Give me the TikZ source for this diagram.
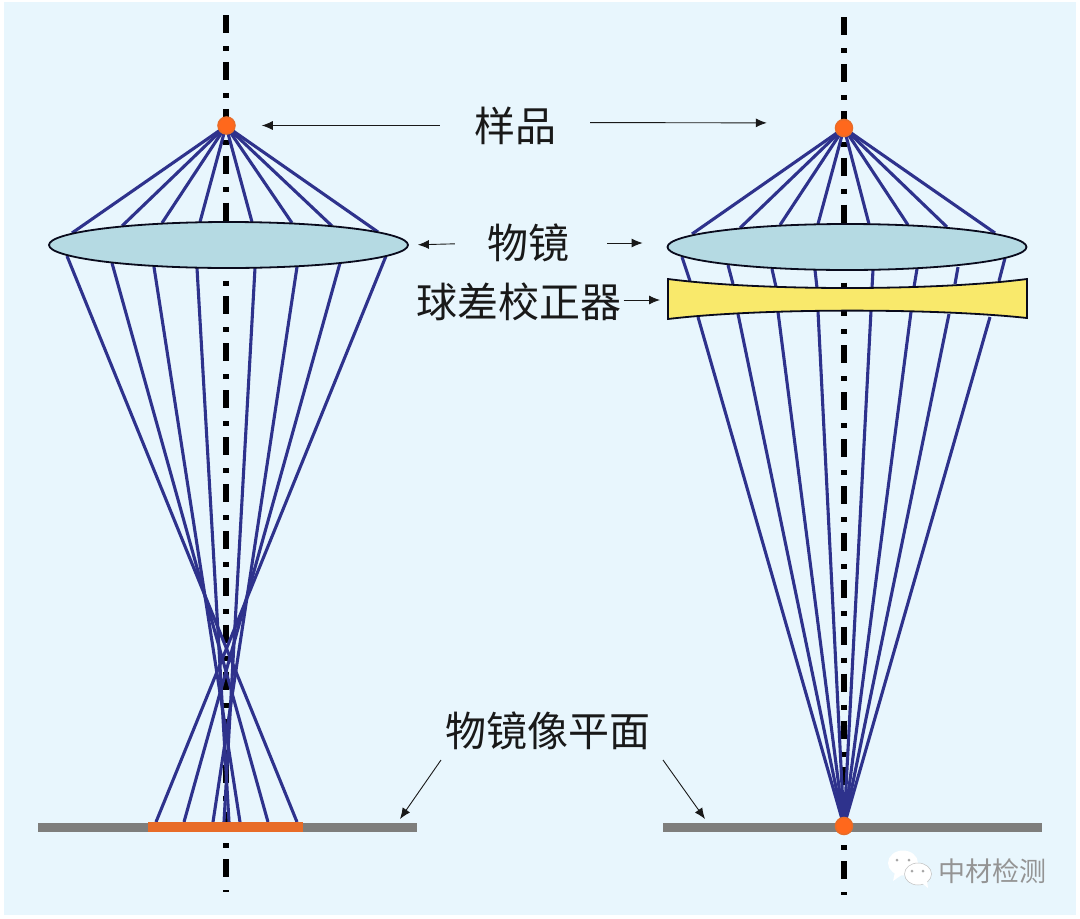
\documentclass[tikz,border=0pt]{standalone}
\usepackage{fontspec}
\newfontfamily\cjk{Noto Sans CJK SC}
\definecolor{bgblue}{RGB}{232, 246, 253}
\definecolor{raynavy}{RGB}{46, 50, 140}
\definecolor{lensblue}{RGB}{181, 218, 227}
\definecolor{fixyellow}{RGB}{249, 233, 107}
\definecolor{spotorange}{RGB}{255, 104, 28}
\definecolor{barorange}{RGB}{232, 108, 40}
\definecolor{planegray}{RGB}{126, 126, 124}
\usetikzlibrary{shapes.geometric, arrows.meta}

\begin{document}
\begin{tikzpicture}[
  x=1pt, y=-1pt,
  axisline/.style={line width=6pt, black, dash pattern=on 18pt off 13pt on 5pt off 10.9pt},
  rayline/.style={line width=3.1pt, raynavy},
  lensbox/.style={ellipse, draw=black!80!raynavy, fill=lensblue, line width=1.8pt, minimum width=359pt, minimum height=46pt, inner sep=0pt},
  spot/.style={circle, draw=barorange, fill=spotorange, line width=1.5pt, minimum size=17pt, inner sep=0pt},
  plane/.style={line width=9pt, planegray},
  ptr/.style={-{Latex[length=11pt, width=9pt]}, line width=0.9pt, black!90},
  lbl/.style={font=\cjk\fontsize{41}{43}\selectfont, inner sep=0pt, text=black!90}
]
  \useasboundingbox (0,0) rectangle (1080,919);
  \fill[bgblue] (4,2) rectangle (1076,915);

  % axes
  \draw[axisline] (226,15) -- (226,892);
  \draw[axisline] (844,17) -- (844,895);

  % left column rays
  \coordinate (focusL) at (226,126);
  \foreach \xa/\ya in {72/233, 122/226, 162/223, 200/222, 252/222, 292/223, 332/226, 378/232}
    \draw[rayline] (focusL) -- (\xa,\ya);
  \foreach \xa/\ya/\xb in {67/256/297, 112/263/268, 154/267/240, 197/268/229, 255/268/224, 297/267/213, 340/263/184, 386/256/156}
    \draw[rayline] (\xa,\ya) -- (\xb,822);

  % right column rays
  \coordinate (focusR) at (844,128);
  \coordinate (hitR) at (844,826);
  \foreach \xa/\ya in {692/234, 740/228, 780/225, 818/224, 869/224, 908/225, 947/227, 995/233}
    \draw[rayline] (focusR) -- (\xa,\ya);
  \foreach \xa/\ya/\xb/\yb in {682/257/690/281, 728/265/733/284, 772/269/776/287, 815/270/817/288, 873/270/872/288, 917/269/914/287, 958/267/955/284, 1005/258/999/281}
    \draw[rayline] (\xa,\ya) -- (\xb,\yb);
  \foreach \xa/\ya in {698/317, 738/314, 778/312, 818/311, 871/311, 911/312, 949/314, 990/317}
    \draw[rayline] (\xa,\ya) -- (hitR);

  % lenses and corrector
  \node[lensbox] (lensL) at (228.5,245) {};
  \node[lensbox] (lensR) at (847,247) {};
  \draw[draw=black!80!raynavy, fill=fixyellow, line width=1.8pt] (668,279) .. controls (760,291) and (935,291) .. (1027,279) -- (1027,318) .. controls (935,308) and (760,308) .. (668,319) -- cycle;
  \coordinate (fixR) at (668,300);

  % image planes
  \draw[plane] (38,827.5) -- (417,827.5);
  \draw[plane] (663,827.5) -- (1042,827.5);
  \draw[line width=10pt, barorange] (148,827) -- (303,827);
  \coordinate (planeL) at (400,819);
  \coordinate (planeR) at (705,819);

  % spots
  \node[spot] (sampleL) at (226.5,125.5) {};
  \node[spot] (sampleR) at (844,128) {};
  \node[spot] (imageR) at (844,826) {};

  % labels
  \node[lbl] (tsample) at (515,125.5) {样品};
  \node[lbl] (tlens) at (528,243) {物镜};
  \node[lbl] (tfix) at (519,302) {球差校正器};
  \node[lbl] (tplane) at (548,731) {物镜像平面};

  \draw[ptr, shorten <=34pt, shorten >=26pt] (tsample.west) -- (sampleL.east);
  \draw[ptr, shorten <=34pt, shorten >=68pt] ([yshift=3pt]tsample.east) -- ([yshift=5pt]sampleR.west);
  \draw[ptr, shorten <=32pt, shorten >=9pt] (tlens.west) -- (lensL.east);
  \draw[ptr, shorten <=38pt, shorten >=24pt] (tlens.east) -- ([yshift=4pt]lensR.west);
  \draw[ptr, shorten >=8pt] ([xshift=2pt,yshift=2pt]tfix.east) -- (fixR);
  \draw[ptr] (441,760) -- (planeL);
  \draw[ptr] (663,760) -- (planeR);

  % watermark
  \fill[white] (903,863) ellipse (15pt and 12.5pt);
  \fill[white] (895,872) -- (893,881) -- (903,874) -- cycle;
  \draw[fill=white, draw=black!25, line width=0.5pt] (918,874) ellipse (13.5pt and 11pt);
  \fill[white] (922,883) -- (928,888) -- (927,880) -- cycle;
  \foreach \xa/\ya in {897/860, 909/860, 912/871, 923/871}
    \fill[black!35] (\xa,\ya) circle (1.5pt);
  \node[font=\cjk\fontsize{27}{29}\selectfont, text=black!42, inner sep=0pt] (mark) at (992,871) {中材检测};
\end{tikzpicture}
\end{document}
